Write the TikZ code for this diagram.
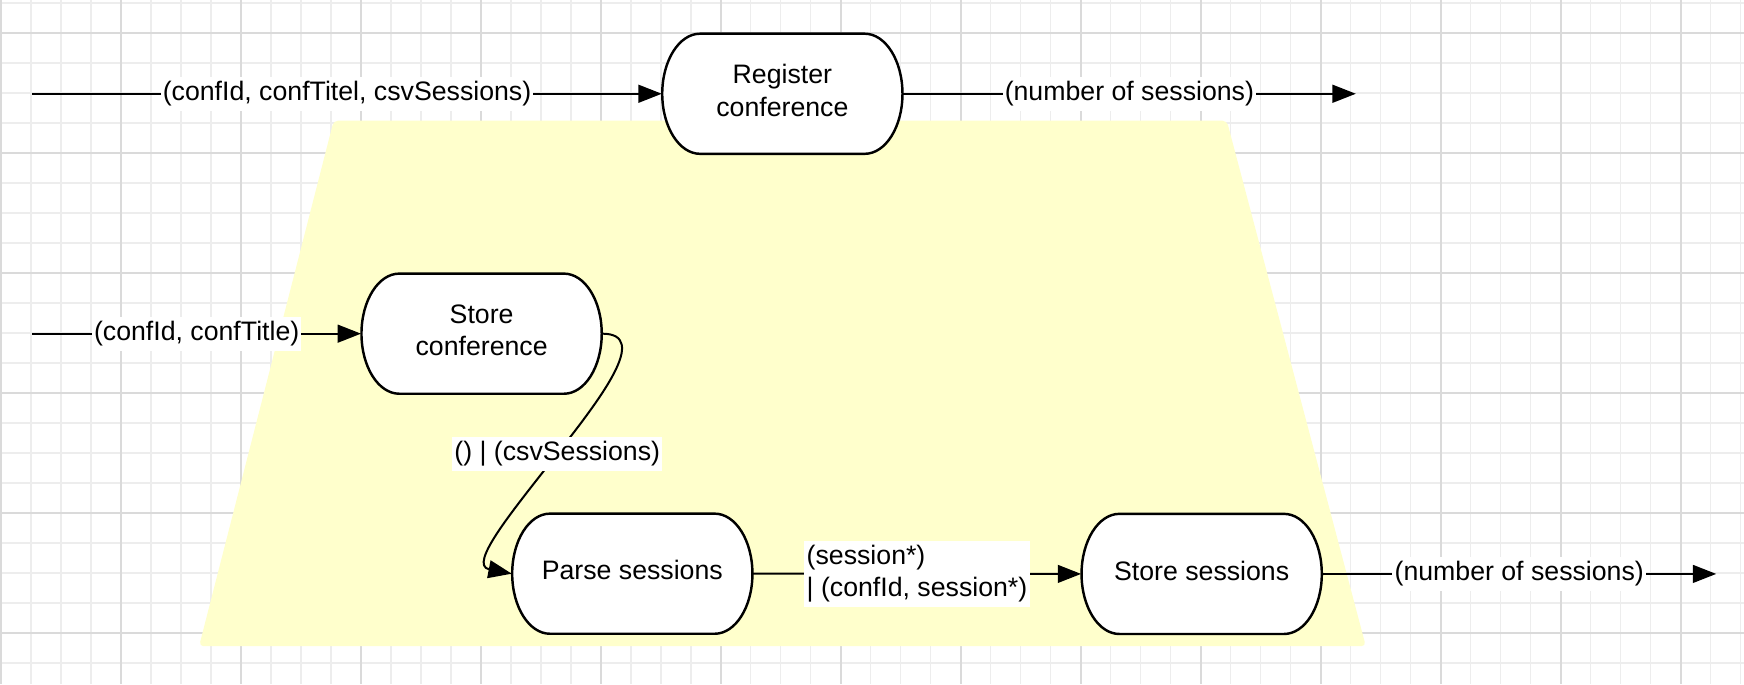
\documentclass[tikz,border=0pt]{standalone}
\usepackage{fontspec}
\setmainfont{Liberation Sans}
\usepackage{tikz}
\usetikzlibrary{arrows.meta}
\definecolor{notefill}{HTML}{FFFFCC}
\definecolor{gridminor}{HTML}{EDEDED}
\definecolor{gridmajor}{HTML}{DADADA}

\tikzset{
  proc/.style={minimum width=108pt, minimum height=54pt, inner sep=0pt},
  proctext/.style={align=center, inner sep=0pt},
  procline/.style={draw, fill=white, line width=1.1pt},
  flow/.style={line width=0.9pt, -{Triangle[length=10.5pt,width=8pt]}},
  lbl/.style={fill=white, inner xsep=1pt, inner ysep=2pt}
}
\newcommand{\procnode}[3]{%
  \path[procline] (#2) ++(-37pt,27pt) -- ++(74pt,0pt)
    arc[start angle=90, end angle=-90, x radius=17pt, y radius=27pt] -- ++(-74pt,0pt)
    arc[start angle=270, end angle=90, x radius=17pt, y radius=27pt] -- cycle;
  \node[proc] (#1) at (#2) {};
  \node[proctext] at ([yshift=1.5pt]#1.center) {#3};}

\begin{document}
\begin{tikzpicture}[x=0.5pt, y=-0.5pt, font={\fontsize{12pt}{14.5pt}\selectfont}]
\useasboundingbox (0,0) rectangle (1568,615);
\fill[white] (0,0) rectangle (1568,615);
\foreach \gx in {0.9,27.87,...,1568} \draw[gridminor, line width=0.5pt] (\gx,0) -- (\gx,615);
\foreach \gy in {2.7,29.67,...,615} \draw[gridminor, line width=0.5pt] (0,\gy) -- (1568,\gy);
\foreach \gx in {0.9,108.79,...,1568} \draw[gridmajor, line width=0.6pt] (\gx,0) -- (\gx,615);
\foreach \gy in {29.7,137.59,...,615} \draw[gridmajor, line width=0.6pt] (0,\gy) -- (1568,\gy);

\fill[notefill, rounded corners=2pt] (300,108.5) -- (1103,108.5) -- (1228,581) -- (179,581) -- cycle;

\procnode{reg}{703.4,84.3}{Register\\conference}
\procnode{storeconf}{433,300}{Store\\conference}
\procnode{parse}{568.5,515.8}{Parse sessions}
\procnode{storesess}{1080.4,516}{Store sessions}

\coordinate (regin) at (29,84.3);
\coordinate (regout) at (1219,84.3);
\coordinate (confin) at (29,300);
\coordinate (sessout) at (1543,516);

\draw[flow] (regin) -- node[lbl]{(confId, confTitel, csvSessions)} (reg.west);
\draw[flow] (reg.east) -- node[lbl]{(number of sessions)} (regout);
\draw[flow] (confin) -- node[lbl]{(confId, confTitle)} (storeconf.west);
\draw[flow] (storeconf.east) .. controls (585,300) and (540,358) .. (501,408) node[lbl]{() | (csvSessions)}
  .. controls (462,458) and (420,508) .. (parse.west);
\draw[flow] (parse.east) -- node[lbl, align=left]{(session*)\\| (confId, session*)} (storesess.west);
\draw[flow] (storesess.east) -- node[lbl]{(number of sessions)} (sessout);
\end{tikzpicture}
\end{document}
